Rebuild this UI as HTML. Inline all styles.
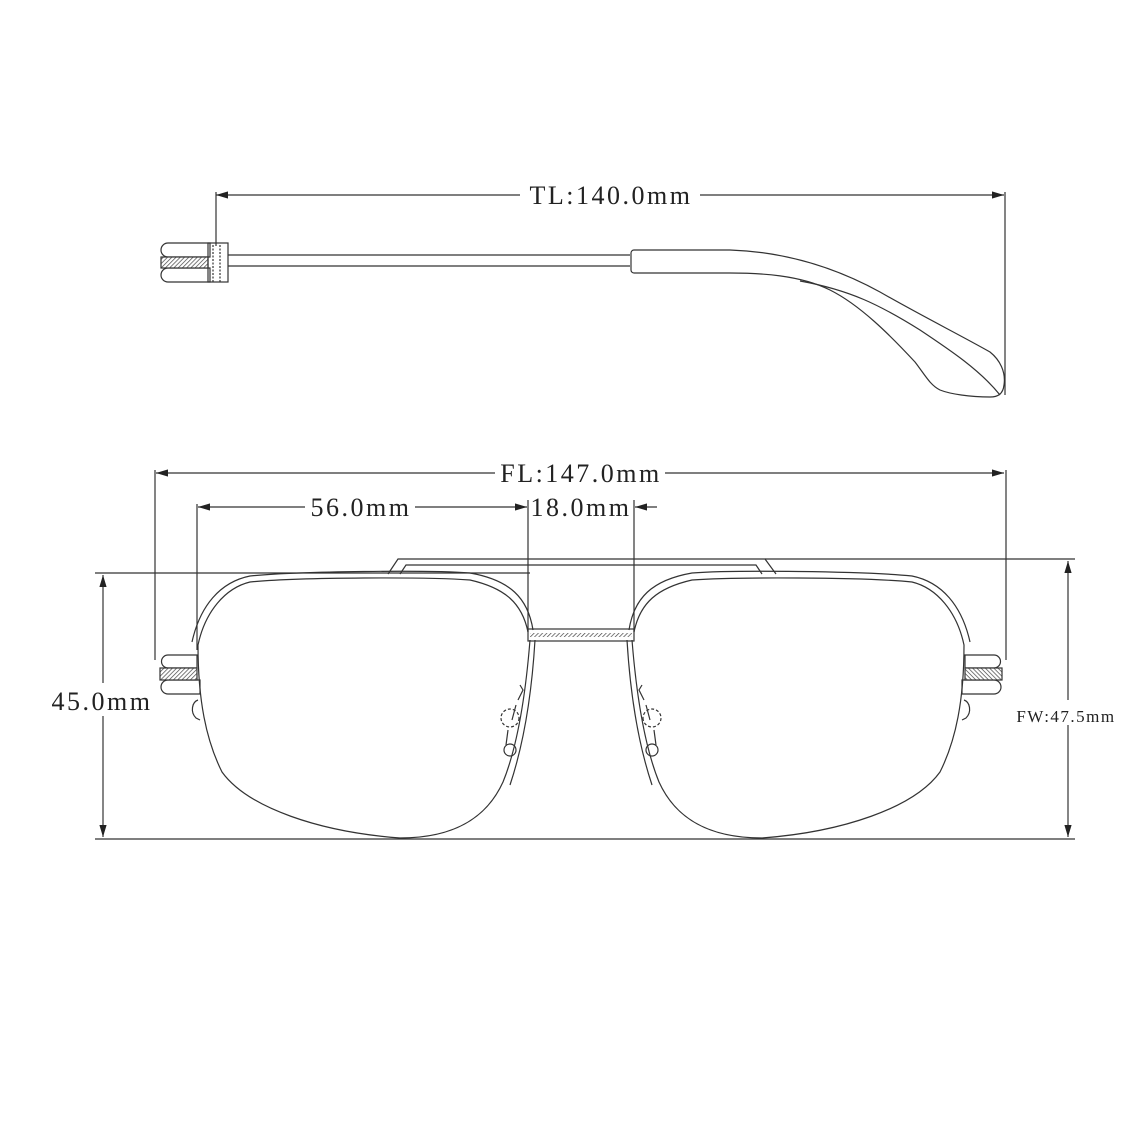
<!DOCTYPE html>
<html><head><meta charset="utf-8"><style>
html,body{margin:0;padding:0;background:#fff;}
svg{display:block;}
text{font-family:"Liberation Serif",serif;fill:#222;}
</style></head><body>
<svg width="1138" height="1138" viewBox="0 0 1138 1138" xmlns="http://www.w3.org/2000/svg">
<defs>
<pattern id="h" width="3" height="3" patternUnits="userSpaceOnUse" patternTransform="rotate(45)">
<rect width="3" height="3" fill="#fff"/><line x1="0" y1="0" x2="0" y2="3" stroke="#444" stroke-width="1.4"/>
</pattern>
<marker id="a" viewBox="0 0 10 6" refX="10" refY="3" markerWidth="10" markerHeight="6" orient="auto-start-reverse">
<path d="M0,0 L10,3 L0,6z" fill="#222"/></marker>
</defs>
<g fill="none" stroke="#333" stroke-width="1.2">
<line x1="216" y1="195" x2="520" y2="195" marker-start="url(#a)"/>
<line x1="700" y1="195" x2="1004" y2="195" marker-end="url(#a)"/>
<line x1="216" y1="192" x2="216" y2="246"/>
<line x1="1005" y1="192" x2="1005" y2="395"/>
<path d="M168,243 L210,243 L210,257 L168,257 A7,7 0 0 1 168,243 Z"/>
<path d="M168,268 L210,268 L210,282 L168,282 A7,7 0 0 1 168,268 Z"/>
<rect x="161" y="257" width="47" height="11" fill="url(#h)"/>
<rect x="208" y="243" width="20" height="39"/>
<line x1="213" y1="245" x2="213" y2="282" stroke-dasharray="2,1.5"/>
<line x1="220" y1="245" x2="220" y2="282" stroke-dasharray="2,1.5"/>
<line x1="228" y1="255" x2="630" y2="255"/>
<line x1="228" y1="266" x2="630" y2="266"/>
<path d="M634,250 L730,250 C790,252 840,270 880,292 C920,315 960,335 990,352 C1000,360 1006,372 1004,385 C1003,394 998,397 990,397 C970,397 950,394 940,390 C930,385 925,375 915,362 C890,335 860,305 830,290 C800,275 760,273 730,273 L634,273 A3,3 0 0 1 631,270 L631,253 A3,3 0 0 1 634,250 Z"/>
<path d="M800,281 C850,290 880,305 920,330 C950,350 980,370 1000,395"/>
<line x1="156" y1="473" x2="495" y2="473" marker-start="url(#a)"/>
<line x1="665" y1="473" x2="1004" y2="473" marker-end="url(#a)"/>
<line x1="155" y1="470" x2="155" y2="660"/>
<line x1="1006" y1="470" x2="1006" y2="660"/>
<line x1="198" y1="507" x2="305" y2="507" marker-start="url(#a)"/>
<line x1="415" y1="507" x2="527" y2="507" marker-end="url(#a)"/>
<line x1="197" y1="504" x2="197" y2="650"/>
<line x1="528" y1="500" x2="528" y2="632"/>
<line x1="634" y1="500" x2="634" y2="632"/>
<line x1="657" y1="507" x2="635" y2="507" marker-end="url(#a)"/>
<line x1="95" y1="573" x2="530" y2="573"/>
<line x1="765" y1="559" x2="1075" y2="559"/>
<line x1="95" y1="839" x2="1075" y2="839"/>
<line x1="103" y1="575" x2="103" y2="683" marker-start="url(#a)"/>
<line x1="103" y1="716" x2="103" y2="837" marker-end="url(#a)"/>
<line x1="1068" y1="561" x2="1068" y2="700" marker-start="url(#a)"/>
<line x1="1068" y1="725" x2="1068" y2="837" marker-end="url(#a)"/>
<path d="M388,574 L398,559 L765,559 L776,574"/>
<path d="M400,574 L406,565 L756,565 L762,574"/>
<rect x="528" y="629" width="106" height="12"/>
<rect x="530" y="633" width="102" height="4" fill="url(#h)" stroke="none"/>
<g id="L">
<path d="M528,632 C522,603 505,588 470,580 C430,577 300,577 250,582 C225,588 205,612 198,645 C198,700 206,740 222,772 C248,808 320,832 400,838 C458,838 488,815 503,782 C518,745 526,690 530,640"/>
<path d="M533,630 C528,598 510,580 470,573 C430,570 300,571 250,576 C220,582 200,606 192,642"/>
<path d="M535,640 C532,690 525,740 510,785"/>
<path d="M168,655 L197,655 L197,668 L168,668 A6.5,6.5 0 0 1 168,655 Z"/>
<path d="M168,680 L200,680 L200,694 L168,694 A7,7 0 0 1 168,680 Z"/>
<rect x="160" y="668" width="37" height="12" fill="url(#h)"/>
<path d="M198,700 C192,702 190,712 196,718 L200,720"/>
<circle cx="510" cy="718" r="9" stroke-dasharray="3,2"/>
<path d="M520,685 L523,690 L518,700 M516,705 L512,720 M508,730 L506,745"/>
<circle cx="510" cy="750" r="6"/>
</g>
<use href="#L" transform="translate(1162,0) scale(-1,1)"/>
</g>
<g font-size="26" text-anchor="middle" letter-spacing="2.5">
<text x="611" y="204">TL:140.0mm</text>
<text x="581" y="482">FL:147.0mm</text>
<text x="361" y="516">56.0mm</text>
<text x="581" y="516">18.0mm</text>
<text x="102" y="710">45.0mm</text>
<text x="1066" y="722" font-size="17" letter-spacing="1.5">FW:47.5mm</text>
</g>
</svg>
</body></html>
